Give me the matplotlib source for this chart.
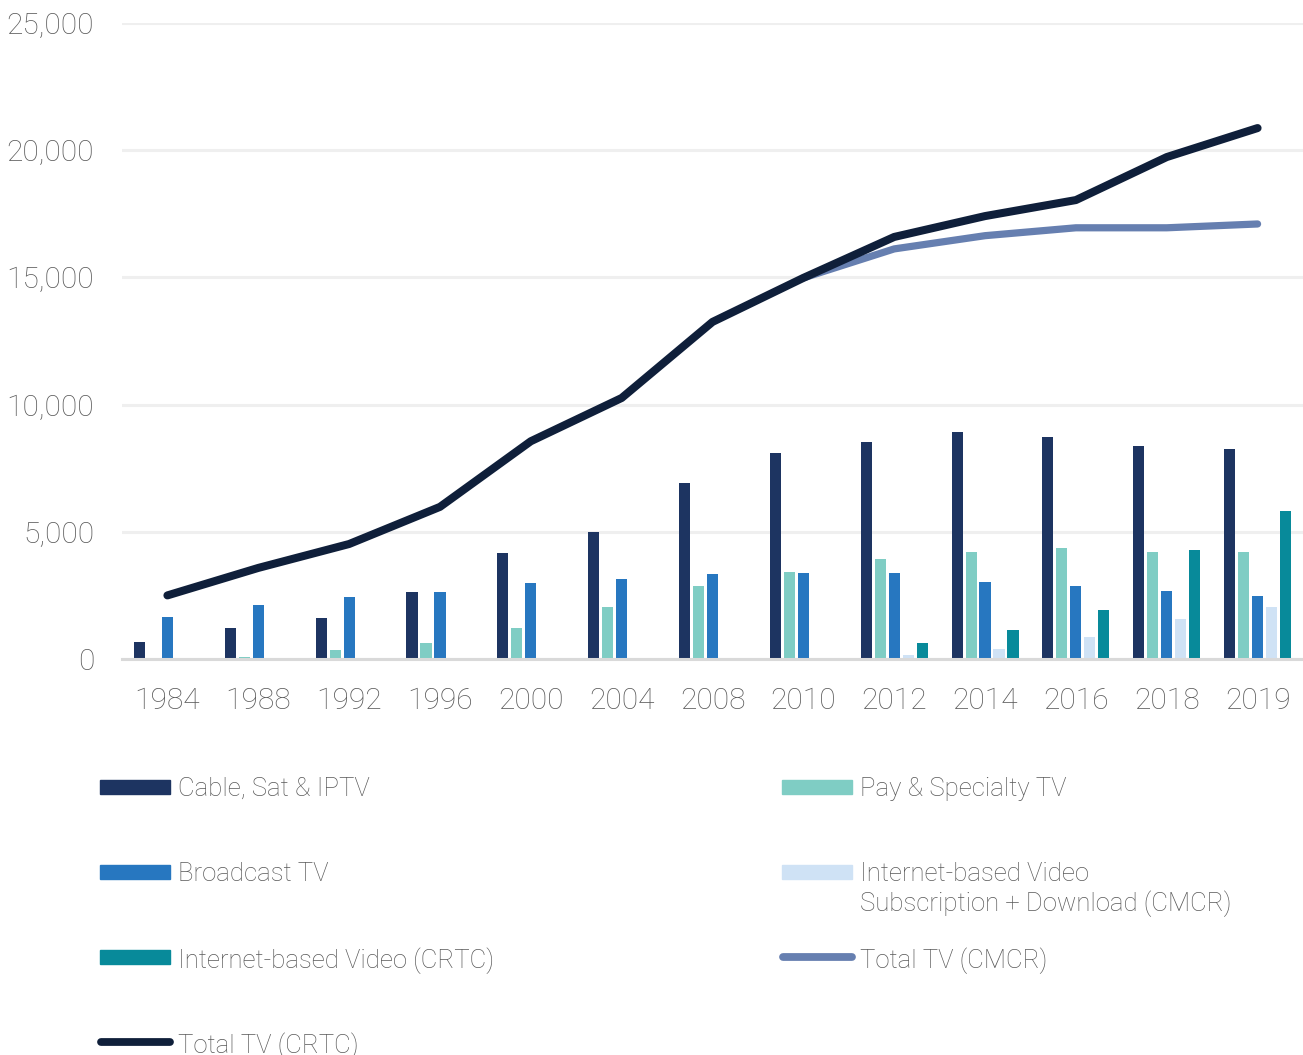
import matplotlib
matplotlib.use('Agg')
import matplotlib.pyplot as plt
import numpy as np
from matplotlib.lines import Line2D
from matplotlib.patches import Rectangle

plt.rcParams['font.family'] = ['Roboto', 'DejaVu Sans']

years = ['1984', '1988', '1992', '1996', '2000', '2004', '2008',
         '2010', '2012', '2014', '2016', '2018', '2019']

cable_sat_iptv = [680, 1210, 1600, 2620, 4180, 5000, 6920, 8080, 8520, 8910, 8740, 8370, 8260]
pay_specialty = [40, 90, 350, 630, 1220, 2030, 2880, 3420, 3930, 4210, 4380, 4210, 4190]
broadcast_tv = [1660, 2120, 2440, 2620, 3000, 3130, 3340, 3380, 3380, 3030, 2860, 2670, 2480]
internet_sub_cmcr = [0, 0, 0, 0, 0, 0, 0, 0, 160, 390, 870, 1570, 2040]
internet_crtc = [0, 0, 0, 0, 0, 0, 0, 0, 620, 1140, 1910, 4290, 5830]

total_crtc = [2500, 3580, 4520, 5980, 8560, 10260, 13250, 14980, 16590, 17410, 18040, 19730, 20870]
cmcr_years = ['2010', '2012', '2014', '2016', '2018', '2019']
total_cmcr = [14980, 16120, 16640, 16950, 16950, 17100]

bar_series = [
    ('Cable, Sat & IPTV', cable_sat_iptv, '#1d3461'),
    ('Pay & Specialty TV', pay_specialty, '#7fcdc4'),
    ('Broadcast TV', broadcast_tv, '#2777c0'),
    ('Internet-based Video\nSubscription + Download (CMCR)', internet_sub_cmcr, '#cfe2f5'),
    ('Internet-based Video (CRTC)', internet_crtc, '#088a9a'),
]
col_crtc = '#0f1f3a'
col_cmcr = '#667fb0'
text_col = '#595959'

fig = plt.figure(figsize=(13.03, 10.55), dpi=100)
ax = fig.add_axes([122 / 1303, 1 - 659 / 1055, 1181 / 1303, 636 / 1055])

x = np.arange(len(years))
step = 0.154
width = 0.122
for i, (name, vals, color) in enumerate(bar_series):
    ax.bar(x + (i - 2) * step, vals, width=width, color=color, zorder=2)

xc = [years.index(y) for y in cmcr_years]
ax.plot(xc, total_cmcr, color=col_cmcr, lw=5.2, solid_capstyle='round',
        solid_joinstyle='round', zorder=3)
ax.plot(x, total_crtc, color=col_crtc, lw=5.8, solid_capstyle='round',
        solid_joinstyle='round', zorder=4)

ax.set_xlim(-0.5, len(years) - 0.5)
ax.set_ylim(0, 25000)
ax.set_yticks(range(0, 25001, 5000))
ax.set_yticklabels([f'{v:,}' for v in range(0, 25001, 5000)])
ax.set_xticks(x)
ax.set_xticklabels(years)
ax.tick_params(axis='y', length=0, pad=20, labelsize=21.5, labelcolor=text_col)
ax.tick_params(axis='x', length=0, pad=20, labelsize=21.5, labelcolor=text_col)
for lab in ax.get_xticklabels() + ax.get_yticklabels():
    lab.set_fontweight('light')

for s in ['top', 'right', 'left']:
    ax.spines[s].set_visible(False)
ax.spines['bottom'].set_color('#d9d9d9')
ax.spines['bottom'].set_linewidth(2.2)
ax.spines['bottom'].set_zorder(5)
ax.yaxis.grid(True, color='#efefef', lw=2.2, zorder=0)
ax.set_axisbelow(True)

# legend, drawn by hand to match the two column layout
W, H = 1303, 1055
legend_items = [
    ('bar', 'Cable, Sat & IPTV', bar_series[0][2], 100, 787),
    ('bar', 'Broadcast TV', bar_series[2][2], 100, 872),
    ('bar', 'Internet-based Video (CRTC)', bar_series[4][2], 100, 957),
    ('line', 'Total TV (CRTC)', col_crtc, 100, 1042),
    ('bar', 'Pay & Specialty TV', bar_series[1][2], 782, 787),
    ('bar', 'Internet-based Video\nSubscription + Download (CMCR)', bar_series[3][2], 782, 872),
    ('line', 'Total TV (CMCR)', col_cmcr, 782, 957),
]
for kind, label, color, px, py in legend_items:
    if kind == 'bar':
        fig.add_artist(Rectangle((px / W, 1 - (py + 7) / H), 70 / W, 14 / H,
                                 transform=fig.transFigure, color=color))
    else:
        fig.add_artist(Line2D([(px + 1) / W, (px + 70) / W], [1 - py / H, 1 - py / H],
                              transform=fig.transFigure, color=color, lw=5.6,
                              solid_capstyle='round'))
    fig.text((px + 78) / W, 1 - (py - 10) / H, label, ha='left', va='top',
             fontsize=18.5, color=text_col, fontweight='light', linespacing=1.2)

fig.savefig('out.png', dpi=100)
